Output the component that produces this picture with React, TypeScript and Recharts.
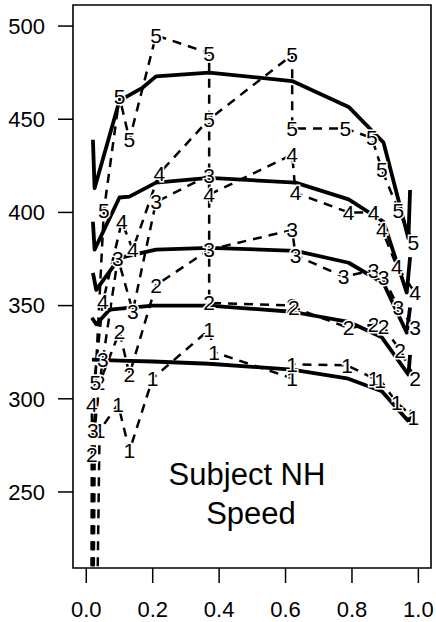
import React from "react";
import { LineChart, Line, XAxis, YAxis, ReferenceArea, Customized } from "recharts";

// fitted curves (solid), one per group
const fit1: [number, number][] = [[0.017, 321], [0.1, 320.5], [0.2, 320], [0.37, 318.8], [0.62, 315.6], [0.785, 311], [0.89, 304], [0.97, 288], [0.98, 294]];
const fit2: [number, number][] = [[0.017, 343.5], [0.03, 340], [0.07, 347.8], [0.2, 350], [0.37, 350], [0.62, 346.7], [0.79, 341.3], [0.89, 333], [0.97, 313], [0.975, 323.6]];
const fit3: [number, number][] = [[0.02, 367.6], [0.03, 358.5], [0.1, 375.6], [0.21, 380], [0.37, 381], [0.63, 379.4], [0.79, 373], [0.895, 362], [0.965, 335.5], [0.975, 349]];
const fit4: [number, number][] = [[0.02, 395], [0.025, 380], [0.1, 408], [0.13, 408.5], [0.21, 416], [0.37, 418.5], [0.63, 416], [0.79, 407], [0.895, 395], [0.965, 357], [0.975, 376]];
const fit5: [number, number][] = [[0.02, 439], [0.025, 413], [0.1, 460], [0.17, 467], [0.21, 473], [0.37, 475], [0.62, 470.5], [0.79, 456.6], [0.895, 437.5], [0.97, 386], [0.975, 412]];

// observed values (dashed, numbered), in trial order
const obs1: [number, number][] = [[0.03, 150], [0.04, 283], [0.096, 297], [0.13, 272], [0.2, 311], [0.37, 337], [0.385, 325], [0.62, 311], [0.62, 318.5], [0.785, 318], [0.865, 311], [0.885, 310], [0.935, 298], [0.985, 290]];
const obs2: [number, number][] = [[0.025, 150], [0.017, 270], [0.04, 308.5], [0.1, 336], [0.13, 313], [0.21, 361], [0.37, 380], [0.37, 351.5], [0.62, 350], [0.625, 349], [0.79, 338], [0.865, 339.7], [0.895, 338.7], [0.945, 326], [0.99, 311]];
const obs3: [number, number][] = [[0.02, 150], [0.02, 283], [0.05, 321], [0.095, 375.5], [0.14, 347], [0.21, 405.6], [0.37, 420], [0.37, 380], [0.62, 390.6], [0.63, 377], [0.775, 365.5], [0.865, 369], [0.895, 365], [0.94, 349], [0.99, 338]];
const obs4: [number, number][] = [[0.015, 150], [0.017, 297], [0.05, 352], [0.107, 395], [0.14, 380], [0.22, 421], [0.37, 450], [0.37, 409.5], [0.62, 431], [0.63, 410.5], [0.79, 400], [0.865, 400], [0.89, 391], [0.935, 371], [0.99, 357]];
const obs5: [number, number][] = [[0.02, 150], [0.027, 308.5], [0.053, 401], [0.1, 462], [0.13, 439], [0.21, 495], [0.37, 485.5], [0.37, 450], [0.62, 484.5], [0.62, 445], [0.78, 445], [0.86, 440], [0.89, 423], [0.94, 401], [0.985, 384]];

const xTicks = [0, 0.2, 0.4, 0.6, 0.8, 1.0];
const yTicks = [250, 300, 350, 400, 450, 500];
const titleLines = ["Subject NH", "Speed"];

const XMIN = -0.04;
const XMAX = 1.038;
const YMIN = 209.2;
const YMAX = 511.3;

const FONT = "'Liberation Sans', Arial, Helvetica, sans-serif";

const fits = [fit1, fit2, fit3, fit4, fit5];
const groups = [obs1, obs2, obs3, obs4, obs5];

const toRows = (pts: [number, number][]) => pts.map(([x, y]) => ({ x, y }));

// digit at each observation, with a white halo so the dashed line breaks round it
const digit = (n: number) => (props: any) => {
  const { x, y, value, index } = props;
  if (value == null || value < YMIN || x == null) return null;
  return (
    <text key={`d${n}-${index}`} x={x} y={y} textAnchor="middle" dominantBaseline="central"
      fontFamily={FONT} fontSize={21} fill="#000" stroke="#fff" strokeWidth={3}
      style={{ paintOrder: "stroke" }}>
      {n}
    </text>
  );
};

function Title() {
  return (
    <g>
      <text x={247} y={485} textAnchor="middle" fontFamily={FONT} fontSize={31} fill="#000">{titleLines[0]}</text>
      <text x={251} y={524} textAnchor="middle" fontFamily={FONT} fontSize={31} fill="#000">{titleLines[1]}</text>
    </g>
  );
}

export default function App() {
  return (
    <div style={{ position: "absolute", left: 0, top: 0, background: "#fff" }}>
      <LineChart width={436} height={622} margin={{ top: 5, right: 5, bottom: 0, left: 0 }}>
        <XAxis type="number" dataKey="x" domain={[XMIN, XMAX]} ticks={xTicks} allowDataOverflow
          tickFormatter={(v: number) => v.toFixed(1)} height={54} tickSize={15} tickMargin={18}
          axisLine={false} tickLine={{ stroke: "#000", strokeWidth: 1.5 }}
          tick={{ fill: "#000", fontSize: 22, fontFamily: FONT }} />
        <YAxis type="number" domain={[YMIN, YMAX]} ticks={yTicks} allowDataOverflow width={73}
          tickSize={15} tickMargin={13} axisLine={false} tickLine={{ stroke: "#000", strokeWidth: 1.5 }}
          tick={{ fill: "#000", fontSize: 22, fontFamily: FONT }} />
        <ReferenceArea x1={XMIN} x2={XMAX} y1={YMIN} y2={YMAX} fill="none" stroke="#000" strokeWidth={1.6} ifOverflow="visible" />
        {groups.map((g, i) => (
          <Line key={`obs${i}`} data={toRows(g)} dataKey="y" type="linear" stroke="#000" strokeWidth={2.5}
            strokeDasharray="9 7" dot={false} activeDot={false} isAnimationActive={false} label={digit(i + 1)} />
        ))}
        {fits.map((f, i) => (
          <Line key={`fit${i}`} data={toRows(f)} dataKey="y" type="linear" stroke="#000" strokeWidth={3.8}
            strokeLinejoin="round" dot={false} activeDot={false} isAnimationActive={false} />
        ))}
        <Customized component={<Title />} />
      </LineChart>
    </div>
  );
}
